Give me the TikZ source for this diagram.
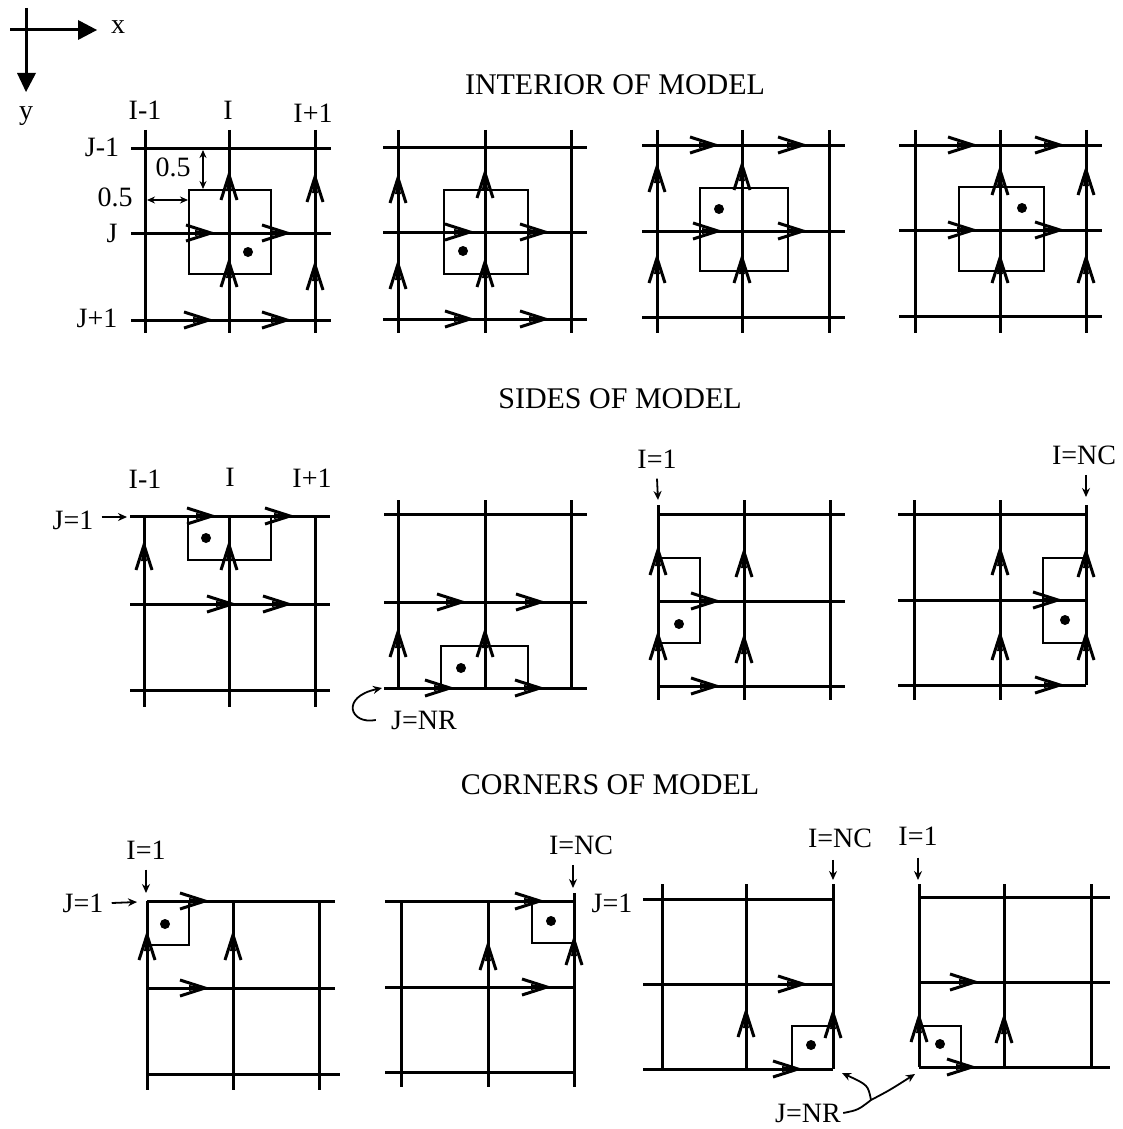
\documentclass[tikz,border=0pt]{standalone}
\usepackage{fontspec}
\setmainfont{Liberation Serif}
\usetikzlibrary{arrows.meta}
\tikzset{
    gridline/.style={black, line width=1.5pt},
    cellbox/.style={black, line width=1.25pt},
    barb/.style={black, line width=1.5pt, line join=miter},
    pointer/.style={black, line width=0.9pt, -{Stealth[length=4.5pt,width=4pt]}},
    lab/.style={inner sep=0pt, font=\fontsize{14}{16}\selectfont},
    heading/.style={inner sep=0pt, font=\fontsize{15}{17}\selectfont},
}
\begin{document}
\begin{tikzpicture}[x=0.5pt, y=-0.5pt]
    \useasboundingbox (0,0) rectangle (1123,1129);
    % Axes in the corner.
        \draw[gridline] (10,30) -- (80,30);
        \draw[gridline] (26,8) -- (26,75);
        \fill (78,20) -- (97,30) -- (78,40) -- cycle;
        \fill (17,73) -- (26,92) -- (36,73) -- cycle;
        \node[lab] (xlab) at (118,27) {x};
        \node[lab] (ylab) at (26,116) {y};
    % Below nodes are the headings.
        \node[heading] (interior) at (615,85) {INTERIOR OF MODEL};
        \node[heading] (sides) at (620,399) {SIDES OF MODEL};
        \node[heading] (corners) at (610,785) {CORNERS OF MODEL};
    % Interior row.
        \foreach \xa/\xb/\xc/\ya/\yb/\yc/\xl/\xr in {
            145/229/315/148/233/320/131/331,
            398/485/571/147/232/319/383/587,
            657/742/829/145/231/317/642/845,
            915/1000/1086/145/230/316/899/1102} {
            \draw[gridline] (\xa,130) -- (\xa,333);
            \draw[gridline] (\xb,130) -- (\xb,333);
            \draw[gridline] (\xc,130) -- (\xc,333);
            \draw[gridline] (\xl,\ya) -- (\xr,\ya);
            \draw[gridline] (\xl,\yb) -- (\xr,\yb);
            \draw[gridline] (\xl,\yc) -- (\xr,\yc);
        }
        \draw[cellbox] (189,190) rectangle (271,274);
        \draw[cellbox] (444,190) rectangle (528,274);
        \draw[cellbox] (700,188) rectangle (788,271);
        \draw[cellbox] (959,187) rectangle (1044,271);
    % Sides row.
        \draw[gridline] (130,516) -- (330,516);
        \draw[gridline] (130,604) -- (330,604);
        \draw[gridline] (130,690) -- (330,690);
        \foreach \x in {144,229,315} \draw[gridline] (\x,516) -- (\x,707);
        \draw[cellbox] (188,516) |- (271,560) -- (271,516);
        \draw[gridline] (384,514) -- (587,514);
        \draw[gridline] (384,602) -- (587,602);
        \draw[gridline] (384,688) -- (587,688);
        \foreach \x in {398,485,571} \draw[gridline] (\x,500) -- (\x,688);
        \draw[cellbox] (441,688) |- (528,646) -- (528,688);
        \draw[gridline] (658,514) -- (845,514);
        \draw[gridline] (658,601) -- (845,601);
        \draw[gridline] (658,686) -- (845,686);
        \draw[gridline] (658,505) -- (658,700);
        \foreach \x in {744,830} \draw[gridline] (\x,500) -- (\x,700);
        \draw[cellbox] (658,558) -| (700,643) -- (658,643);
        \draw[gridline] (898,514) -- (1086,514);
        \draw[gridline] (898,600) -- (1086,600);
        \draw[gridline] (898,685) -- (1086,685);
        \foreach \x in {914,1000} \draw[gridline] (\x,500) -- (\x,700);
        \draw[gridline] (1086,505) -- (1086,685);
        \draw[cellbox] (1086,558) -| (1043,643) -- (1086,643);
    % Corners row.
        \draw[gridline] (147,901) -- (335,901);
        \draw[gridline] (147,988) -- (335,988);
        \draw[gridline] (147,1074) -- (340,1074);
        \draw[gridline] (147,901) -- (147,1090);
        \foreach \x in {233,319} \draw[gridline] (\x,901) -- (\x,1090);
        \draw[cellbox] (147,945) -| (189,901);
        \draw[gridline] (385,901) -- (574,901);
        \draw[gridline] (385,987) -- (574,987);
        \draw[gridline] (385,1072) -- (574,1072);
        \foreach \x in {401,488} \draw[gridline] (\x,901) -- (\x,1087);
        \draw[gridline] (574,893) -- (574,1087);
        \draw[cellbox] (574,943) -| (532,901);
        \draw[gridline] (643,899) -- (833,899);
        \draw[gridline] (643,984) -- (833,984);
        \draw[gridline] (643,1069) -- (833,1069);
        \foreach \x in {662,746,833} \draw[gridline] (\x,884) -- (\x,1069);
        \draw[cellbox] (833,1026) -| (792,1069);
        \draw[gridline] (919,897) -- (1110,897);
        \draw[gridline] (919,982) -- (1110,982);
        \draw[gridline] (919,1067) -- (1110,1067);
        \foreach \x in {919,1004,1091} \draw[gridline] (\x,884) -- (\x,1067);
        \draw[cellbox] (919,1026) -| (961,1067);
    % Dots in the cells.
        \foreach \x/\y in {248/252,463/251,719/209,1022/208,206/538,461/668,679/624,1065/620,
            165/924,551/921,811/1045,940/1044}
            \fill (\x,\y) circle (5);
    % Open arrowheads along x, the point comes first.
        \foreach \x/\y in {211/233,287/233,209/320,287/320,
            470/232,545/232,470/319,545/319,
            715/145,803/145,718/231,803/231,
            973/145,1060/145,973/230,1060/230,
            212/516,290/516,232/604,288/604,
            462/602,541/602,450/688,540/688,
            716/601,716/686,1058/600,1060/685,
            205/901,205/988,540/901,547/987,
            803/984,798/1069,975/982,972/1067} {
            \draw[barb] (\x-25,\y-8) -- (\x,\y) -- (\x-25,\y+8);
            \fill (\x,\y) -- (\x-16,\y-3) -- (\x-16,\y+3) -- cycle;
        }
    % Open arrowheads along y, the point comes first.
        \foreach \x/\y in {229/175,315/177,229/262,315/265,
            398/178,485/173,398/264,485/262,
            657/167,742/165,657/258,742/258,
            1000/170,1086/170,1000/258,1086/258,
            144/545,229/545,
            398/632,485/632,
            658/550,658/635,744/552,744/638,
            1000/550,1000/635,1086/552,1086/635,
            147/935,233/935,
            488/945,574/940,
            746/1012,833/1013,919/1017,1004/1018} {
            \draw[barb] (\x-8,\y+25) -- (\x,\y) -- (\x+8,\y+25);
            \fill (\x,\y) -- (\x-3,\y+16) -- (\x+3,\y+16) -- cycle;
        }
    % Labels of the first interior panel.
        \node[lab] (iminus) at (145,110) {I-1};
        \node[lab] (ihere) at (228,110) {I};
        \node[lab] (iplus) at (313,113) {I+1};
        \node[lab] (jminus) at (102,147) {J-1};
        \node[lab] (jhere) at (112,233) {J};
        \node[lab] (jplus) at (97,318) {J+1};
        \node[lab] (halfy) at (173,167) {0.5};
        \node[lab] (halfx) at (115,197) {0.5};
        \coordinate (ytop) at (203,150);
        \coordinate (ybot) at (203,189);
        \coordinate (xleft) at (147,200);
        \coordinate (xright) at (188,200);
        \draw[pointer, {Stealth[length=4pt,width=3.5pt]}-{Stealth[length=4pt,width=3.5pt]}] (ytop) -- (ybot);
        \draw[pointer, {Stealth[length=4pt,width=3.5pt]}-{Stealth[length=4pt,width=3.5pt]}] (xleft) -- (xright);
    % Labels of the sides row.
        \node[lab] (siminus) at (145,479) {I-1};
        \node[lab] (sihere) at (230,477) {I};
        \node[lab] (siplus) at (312,478) {I+1};
        \node[lab] (sjone) at (73,520) {J=1};
        \coordinate (sjonetip) at (127,517);
        \draw[pointer] (sjone.east |- sjonetip) ++(8,0) -- (sjonetip);
        \node[lab] (sjnr) at (424,720) {J=NR};
        \coordinate (sjnrtip) at (382,688);
        \draw[pointer] (sjnr.west) ++(-15,0) .. controls (350,725) and (340,697) .. (sjnrtip);
        \node[lab] (sione) at (657,459) {I=1};
        \coordinate (sionetip) at (658,500);
        \draw[pointer] (sione.south) ++(0,10) -- (sionetip);
        \node[lab] (sinc) at (1084,455) {I=NC};
        \coordinate (sinctip) at (1086,497);
        \draw[pointer] (sinc.south) ++(2,10) -- (sinctip);
    % Labels of the corners row.
        \node[lab] (cione) at (146,850) {I=1};
        \coordinate (cionetip) at (146,893);
        \draw[pointer] (cione.south) ++(0,10) -- (cionetip);
        \node[lab] (cjone) at (83,903) {J=1};
        \coordinate (cjonetip) at (137,902);
        \draw[pointer] (cjone.east) ++(8,0) -- (cjonetip);
        \node[lab] (cinc) at (581,845) {I=NC};
        \coordinate (cinctip) at (573,888);
        \draw[pointer] (cinc.south) ++(-8,10) -- (cinctip);
        \node[lab] (cjtwo) at (612,903) {J=1};
        \node[lab] (cincb) at (840,838) {I=NC};
        \coordinate (cincbtip) at (833,880);
        \draw[pointer] (cincb.south) ++(-7,12) -- (cincbtip);
        \node[lab] (cioneb) at (918,836) {I=1};
        \coordinate (cionebtip) at (918,880);
        \draw[pointer] (cioneb.south) ++(0,12) -- (cionebtip);
        \node[lab] (cjnr) at (808,1113) {J=NR};
        \coordinate (cjnrmid) at (871,1100);
        \coordinate (cjnrleft) at (842,1073);
        \coordinate (cjnrright) at (915,1074);
        \draw[pointer] (cjnr.east) ++(2,0) .. controls (858,1110) .. (cjnrmid) .. controls (890,1090) .. (cjnrright);
        \draw[pointer] (cjnrmid) .. controls (868,1085) .. (cjnrleft);
\end{tikzpicture}
\end{document}
